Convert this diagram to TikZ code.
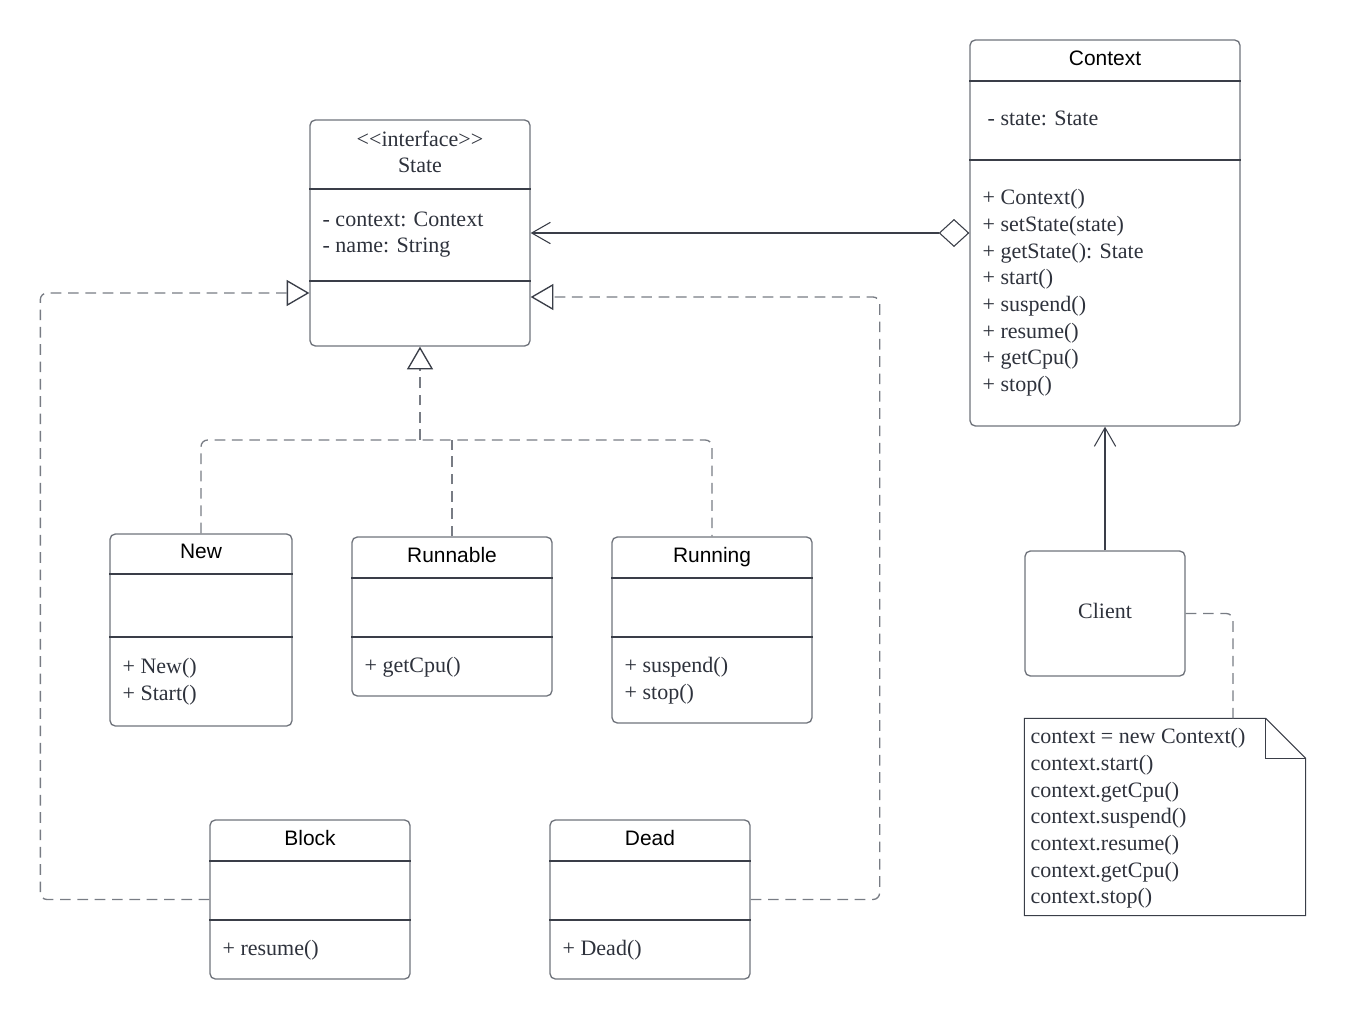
\documentclass[tikz,border=0pt]{standalone}
\usepackage{fontspec}
\setmainfont{Liberation Serif}
\setsansfont{Liberation Sans}
\usepackage{tikz}
\usetikzlibrary{arrows.meta, positioning, calc}
\definecolor{BoxGray}{RGB}{112,116,124}
\definecolor{RuleGray}{RGB}{58,62,72}
\definecolor{DashGray}{RGB}{120,124,132}
\definecolor{TextGray}{RGB}{46,50,60}

\begin{document}
\begin{tikzpicture}[x=0.75pt, y=-0.75pt, line width=1pt,
	box/.style={draw=BoxGray, fill=white, rounded corners=4pt, inner sep=0pt},
	title/.style={anchor=base, inner sep=0pt, font=\sffamily\fontsize{15.7}{19}\selectfont, text=black},
	members/.style={anchor=north west, align=left, inner sep=0pt, text=TextGray, font=\fontsize{16.5}{20}\selectfont},
	rule/.style={draw=RuleGray, line width=0.8pt},
	realize/.style={draw=DashGray, dash pattern=on 8pt off 5pt, rounded corners=5pt},
	realizetip/.style={realize, -{Triangle[length=17pt, width=19.5pt, color=RuleGray, fill=white]}},
	agg/.style={draw=RuleGray, line width=0.8pt, {Diamond[length=23pt, width=21pt, color=RuleGray, fill=white]}-{Straight Barb[length=14pt, width=16pt]}},
	assoc/.style={draw=RuleGray, line width=0.8pt, -{Straight Barb[length=14pt, width=16pt]}}]
	\useasboundingbox (0,0) rectangle (1345,1020);

	% classes
	\node[box, minimum width=165pt, minimum height=169.5pt] (State) at (420,233) {};
	\node[box, minimum width=202.5pt, minimum height=289.5pt] (Context) at (1105,233) {};
	\node[box, minimum width=136.5pt, minimum height=144pt] (New) at (201,630) {};
	\node[box, minimum width=150pt, minimum height=119.25pt] (Runnable) at (452,616.5) {};
	\node[box, minimum width=150pt, minimum height=139.5pt] (Running) at (712,630) {};
	\node[box, minimum width=150pt, minimum height=119.25pt] (Block) at (310,899.5) {};
	\node[box, minimum width=150pt, minimum height=119.25pt] (Dead) at (650,899.5) {};
	\node[box, minimum width=120pt, minimum height=93.75pt] (Client) at (1105,613.5) {};
	\node[inner sep=0pt, minimum width=210pt, minimum height=147pt] (note) at (1165,817) {};

	\draw[rule] (State.west |- 0,189) -- (State.east |- 0,189);
	\draw[rule] (State.west |- 0,281) -- (State.east |- 0,281);
	\draw[rule] (Context.west |- 0,81) -- (Context.east |- 0,81);
	\draw[rule] (Context.west |- 0,160) -- (Context.east |- 0,160);
	\draw[rule] (New.west |- 0,574) -- (New.east |- 0,574);
	\draw[rule] (New.west |- 0,637) -- (New.east |- 0,637);
	\draw[rule] (Runnable.west |- 0,578) -- (Runnable.east |- 0,578);
	\draw[rule] (Runnable.west |- 0,637) -- (Runnable.east |- 0,637);
	\draw[rule] (Running.west |- 0,578) -- (Running.east |- 0,578);
	\draw[rule] (Running.west |- 0,637) -- (Running.east |- 0,637);
	\draw[rule] (Block.west |- 0,861) -- (Block.east |- 0,861);
	\draw[rule] (Block.west |- 0,920) -- (Block.east |- 0,920);
	\draw[rule] (Dead.west |- 0,861) -- (Dead.east |- 0,861);
	\draw[rule] (Dead.west |- 0,920) -- (Dead.east |- 0,920);

	\draw[rule] (note.north west) -- ([xshift=-30pt]note.north east) -- ([yshift=-30pt]note.north east)
		-- (note.south east) -- (note.south west) -- cycle;
	\draw[rule] ([xshift=-30pt]note.north east) |- ([yshift=-30pt]note.north east);

	% texts
	\node[members, anchor=north, align=center] (StateTitle) at (420,130) {<\kern0pt<interface>\kern0pt>\\State};
	\node[members] (StateAttr) at (322,211) {- context: Context\\- name: String};
	\node[title] (ContextTitle) at (1105,65.5) {Context};
	\node[members] (ContextAttr) at (987,110) {- state: State};
	\node[members] (ContextOps) at (982,189) {+ Context()\\+ setState(state)\\+ getState(): State\\+ start()\\+ suspend()\\+ resume()\\+ getCpu()\\+ stop()};
	\node[title] (NewTitle) at (201,558.5) {New};
	\node[members] (NewOps) at (122,658) {+ New()\\+ Start()};
	\node[title] (RunnableTitle) at (452,562.5) {Runnable};
	\node[members] (RunnableOps) at (364,657) {+ getCpu()};
	\node[title] (RunningTitle) at (712,562.5) {Running};
	\node[members] (RunningOps) at (624,657) {+ suspend()\\+ stop()};
	\node[title] (BlockTitle) at (310,845.5) {Block};
	\node[members] (BlockOps) at (222,940) {+ resume()};
	\node[title] (DeadTitle) at (650,845.5) {Dead};
	\node[members] (DeadOps) at (562,940) {+ Dead()};
	\node[members, anchor=center] (ClientName) at (1105,611) {Client};
	\node[members] (noteText) at (1030,728) {context = new Context()\\context.start()\\context.getCpu()\\context.suspend()\\context.resume()\\context.getCpu()\\context.stop()};

	% connectors
	\coordinate (jn) at (420,440);
	\draw[realizetip] (jn) -- (State.south);
	\draw[realize] (New.north) |- (jn) -| (Running.north);
	\draw[realize] (Runnable.north) -- (Runnable.north |- jn);
	\draw[realizetip] (Block.west) -- ++(-169,0) |- (State.west |- 0,293);
	\draw[realizetip] (Dead.east) -- ++(129,0) |- (State.east |- 0,297);
	\draw[agg] (Context.west) -- (State.east);
	\draw[assoc] (Client.north) -- (Context.south);
	\draw[realize] (Client.east) -| (note.north -| 1233,0);
\end{tikzpicture}
\end{document}
